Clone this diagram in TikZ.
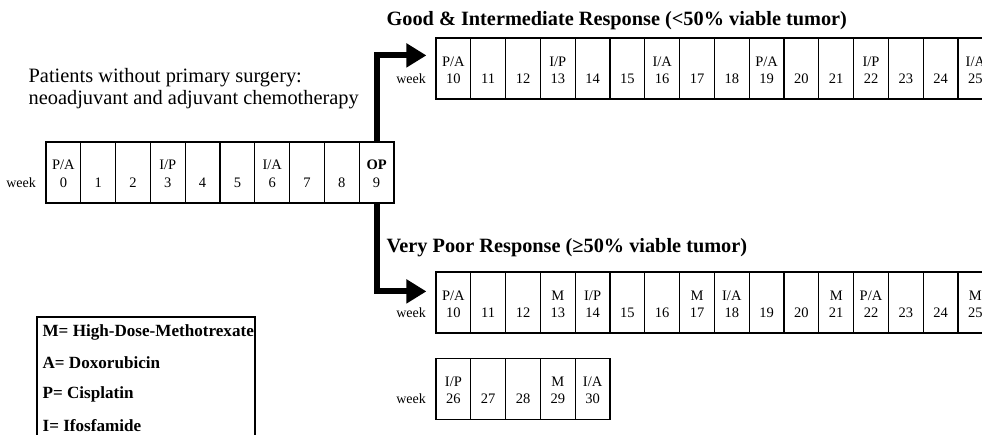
\documentclass[tikz,border=0pt]{standalone}
\usepackage{fontspec}
\setmainfont{Liberation Serif}
\usetikzlibrary{arrows.meta,calc}

\begin{document}
\begin{tikzpicture}[x=1pt,y=-1pt,line width=1.2pt,
    cell/.style={draw,minimum width=34.8pt,minimum height=61pt,inner sep=0pt},
    drug/.style={font=\fontsize{14.5}{14.5}\selectfont,inner sep=0pt},
    wk/.style={font=\fontsize{14}{14}\selectfont,inner sep=0pt,anchor=east},
    intro/.style={font=\fontsize{20.4}{22}\selectfont,align=left,anchor=west,inner sep=0pt},
    title/.style={font=\fontsize{20.3}{20}\selectfont\bfseries,anchor=west,inner sep=0pt},
    legtext/.style={font=\fontsize{17.1}{17}\selectfont\bfseries,anchor=west,inner sep=0pt},
    branch/.style={line width=6pt,-{Triangle[length=20pt,width=23pt]}}]
\useasboundingbox (0,0) rectangle (982,434);

\node[intro] (patients) at (28,89) {Patients without primary surgery:\\neoadjuvant and adjuvant chemotherapy};

% weeks 0-9, surgery in week 9
\foreach \w/\d in {0/{P/A},1/{},2/{},3/{I/P},4/{},5/{},6/{I/A},7/{},8/{},9/{\textbf{OP}}}{
  \node[cell] (pre\w) at ({46+(\w+.5)*34.8},172.5) {};
  \node[drug] (pre\w-l) at ([yshift=8pt]pre\w.center) {\d};
  \node[drug] (pre\w-n) at ([yshift=-10.5pt]pre\w.center) {\w};
}
\node[wk] (pre-wk) at ([xshift=-9pt]pre0.west |- pre0-n) {week};

% good response
\node[title] (good) at (386,21) {Good \& Intermediate Response (<50\% viable tumor)};
\foreach \w/\d in {10/{P/A},11/{},12/{},13/{I/P},14/{},15/{},16/{I/A},17/{},18/{},19/{P/A},20/{},21/{},22/{I/P},23/{},24/{},25/{I/A}}{
  \node[cell] (good\w) at ({436+(\w-9.5)*34.8},68.5) {};
  \node[drug] (good\w-l) at ([yshift=7pt]good\w.center) {\d};
  \node[drug] (good\w-n) at ([yshift=-10pt]good\w.center) {\w};
}
\node[wk] (good-wk) at ([xshift=-9pt]good10.west |- good10-n) {week};

% very poor response
\node[title] (poor) at (386,248) {Very Poor Response (≥50\% viable tumor)};
\foreach \w/\d in {10/{P/A},11/{},12/{},13/{M},14/{I/P},15/{},16/{},17/{M},18/{I/A},19/{},20/{},21/{M},22/{P/A},23/{},24/{},25/{M}}{
  \node[cell] (poor\w) at ({436+(\w-9.5)*34.8},302.5) {};
  \node[drug] (poor\w-l) at ([yshift=7pt]poor\w.center) {\d};
  \node[drug] (poor\w-n) at ([yshift=-10pt]poor\w.center) {\w};
}
\node[wk] (poor-wk) at ([xshift=-9pt]poor10.west |- poor10-n) {week};

\foreach \w/\d in {26/{I/P},27/{},28/{},29/{M},30/{I/A}}{
  \node[cell] (late\w) at ({436+(\w-25.5)*34.8},389) {};
  \node[drug] (late\w-l) at ([yshift=7pt]late\w.center) {\d};
  \node[drug] (late\w-n) at ([yshift=-10pt]late\w.center) {\w};
}
\node[wk] (late-wk) at ([xshift=-9pt]late26.west |- late26-n) {week};

% branches after surgery
\draw[branch] (pre9.north) |- ($(good10.north west)+(-9,18)$);
\draw[branch] (pre9.south) |- ($(poor10.north west)+(-9,20)$);

% legend
\draw[line width=1.4pt] (37,450) rectangle (255,317);
\node[legtext] (legM) at (42,332) {M= High-Dose-Methotrexate};
\node[legtext] (legA) at (42,363) {A= Doxorubicin};
\node[legtext] (legP) at (42,394) {P= Cisplatin};
\node[legtext] (legI) at (42,426) {I= Ifosfamide};
\end{tikzpicture}
\end{document}
